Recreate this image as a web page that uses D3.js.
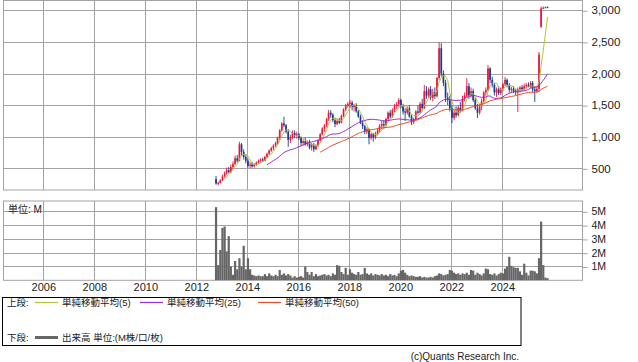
<!DOCTYPE html>
<html><head><meta charset="utf-8">
<script src="https://cdn.jsdelivr.net/npm/d3@7"></script>
<style>
body{margin:0;background:#fff}
svg{display:block}
text{font-family:"Liberation Sans","Noto Sans CJK JP",sans-serif;fill:#222}
</style>
</head><body><svg id="c" width="638" height="362"></svg>
<script>
// ---- data: monthly bars, Oct 2012 .. Oct 2025 ----
const startYear = 2012, startMonth = 10;
const opens = [
  330,260,270,
  310,370,420,470,440,520,570,660,620,880,760,680,
  620,540,560,530,560,590,620,640,620,680,730,780,
  820,860,900,980,1100,1210,1180,1080,950,990,1060,1020,
  1040,980,900,930,880,920,830,870,800,860,940,1040,
  1130,1180,1280,1380,1350,1260,1200,1250,1220,1330,1430,1490,
  1520,1540,1470,1500,1400,1320,1220,1170,1080,1120,980,1040,
  990,1050,1100,1170,1200,1180,1280,1380,1320,1420,1480,1510,
  1580,1480,1400,1380,1450,1320,1230,1280,1400,1380,1520,1450,
  1720,1650,1750,1620,1700,1640,1930,2400,2000,1850,1620,1580,
  1450,1300,1380,1340,1460,1420,1600,1650,1800,1650,1720,1580,
  1450,1380,1480,1560,1700,1740,2080,1900,1820,1700,1750,1690,
  1760,1830,1900,1820,1740,1760,1720,1700,1750,1780,1750,1800,
  1820,1790,1850,1750,1720,1760,2740,3030,3040,3050
];
const highs = [
  380,290,330,
  400,450,510,520,560,610,700,710,920,900,800,720,
  650,600,600,580,610,640,660,670,700,750,800,840,
  880,920,1000,1120,1230,1315,1200,1120,1030,1100,1100,1080,
  1060,1000,960,990,940,950,900,900,880,960,1060,1150,
  1200,1300,1423,1420,1370,1300,1280,1300,1350,1450,1520,1550,
  1581,1570,1520,1530,1420,1350,1260,1190,1150,1130,1060,1060,
  1080,1140,1200,1250,1260,1300,1400,1420,1450,1520,1550,1610,
  1600,1520,1450,1480,1500,1350,1300,1420,1500,1550,1600,1820,
  1800,1780,1800,1760,1780,1950,2494,2480,2050,1900,1700,1650,
  1500,1420,1480,1500,1550,1650,1700,1930,1850,1780,1760,1620,
  1520,1520,1600,1720,1780,2135,2100,1950,1850,1780,1800,1780,
  1850,1945,1920,1850,1790,1800,1760,1780,1800,1820,1840,1850,
  1860,1880,1880,1800,1800,2340,3060,3060,3060,3060
];
const lows = [
  240,230,260,
  300,350,400,420,420,480,550,590,610,700,640,580,
  510,500,510,510,540,570,590,600,610,660,710,760,
  790,840,880,950,1080,1150,1050,840,900,960,980,970,
  950,850,860,860,850,800,780,760,790,840,920,1020,
  1080,1150,1250,1300,1230,1150,1180,1200,1210,1310,1400,1460,
  1450,1420,1400,1380,1300,1200,1120,1040,1040,880,950,920,
  960,1020,1070,1120,1120,1160,1260,1290,1300,1390,1440,1480,
  1450,1350,1250,1350,1300,1185,1200,1260,1350,1370,1400,1440,
  1600,1620,1580,1560,1600,1620,1900,1950,1800,1550,1500,1400,
  1215,1260,1300,1320,1380,1400,1560,1620,1600,1620,1550,1420,
  1295,1350,1420,1540,1650,1720,1850,1780,1650,1630,1660,1660,
  1720,1800,1780,1700,1690,1690,1660,1390,1700,1720,1730,1760,
  1780,1770,1700,1550,1700,1710,2720,3020,3030,3040
];
const closes = [
  260,270,310,
  370,420,470,440,520,570,660,620,880,760,680,620,
  540,560,530,560,590,620,640,620,680,730,780,820,
  860,900,980,1100,1210,1180,1080,950,990,1060,1020,1040,
  980,900,930,880,920,830,870,800,860,940,1040,1130,
  1180,1280,1380,1350,1260,1200,1250,1220,1330,1430,1490,1520,
  1540,1470,1500,1400,1320,1220,1170,1080,1120,980,1040,990,
  1050,1100,1170,1200,1180,1280,1380,1320,1420,1480,1510,1580,
  1480,1400,1380,1450,1320,1230,1280,1400,1380,1520,1450,1720,
  1650,1750,1620,1700,1640,1930,2400,2000,1850,1620,1580,1450,
  1300,1380,1340,1460,1420,1600,1650,1800,1650,1720,1580,1450,
  1380,1480,1560,1700,1740,2080,1900,1820,1700,1750,1690,1760,
  1830,1900,1820,1740,1760,1720,1700,1750,1780,1750,1800,1820,
  1790,1850,1750,1720,1760,2300,3030,3040,3050,3045
];
// volume in millions
const volumes = [
  5.3,1.1,2.2,
  3.8,3.9,2.1,3.2,1.0,0.4,1.4,0.8,1.6,1.0,2.5,0.8,
  1.6,0.8,0.4,0.35,0.3,0.35,0.3,0.3,0.45,0.3,0.5,0.35,
  0.3,0.4,0.3,0.75,0.4,0.5,0.35,0.45,0.35,0.2,0.3,0.2,
  0.25,0.3,0.2,1.0,0.6,0.4,0.6,0.3,0.45,0.3,0.35,0.4,
  0.45,0.35,0.4,0.3,0.5,0.4,1.1,1.05,0.6,0.45,0.9,0.4,
  0.8,0.55,0.45,0.4,0.6,0.4,0.45,0.9,0.5,0.4,0.5,0.35,
  0.45,0.4,0.35,0.45,0.35,0.4,0.3,0.45,0.35,0.4,0.3,0.5,
  0.7,0.75,0.55,0.4,0.3,0.35,0.3,0.25,0.25,0.3,0.2,0.25,
  0.2,0.2,0.25,0.2,0.3,0.35,0.5,0.45,0.35,0.4,0.45,0.75,
  0.7,0.55,0.45,0.5,0.4,0.5,0.45,0.55,0.4,0.75,0.7,0.4,
  0.55,0.45,0.35,0.5,0.85,0.8,0.45,0.4,0.5,0.35,0.45,0.55,
  0.5,0.85,1.0,1.7,1.05,0.95,0.9,0.9,0.65,0.4,1.2,0.55,
  0.35,0.7,0.7,0.65,0.5,1.6,4.25,1.1,0.2,0.15
];
const priceTicks = [500,1000,1500,2000,2500,3000];
const volumeTicks = [1,2,3,4,5];
const yearTicks = [2006,2008,2010,2012,2014,2016,2018,2020,2022,2024];
const maPeriods = [5,25,50];
const maLabels = ["単純移動平均(5)","単純移動平均(25)","単純移動平均(50)"];
const maColors = ["#b3c43a","#9a2fcf","#e0502a"];

// ---- layout ----
const svg = d3.select("#c");
const L = 3.5, R = 582.5;
const P = {top:0.5, bottom:190};
const V = {top:201, bottom:280.3};
const gridColor = "#a3a3a3";
const upColor = "#e8173f", downColor = "#1d3a8c";

const dates = closes.map((_, i) => new Date(Date.UTC(startYear, startMonth - 1 + i, 10)));
const x = d3.scaleUtc().domain([new Date(Date.UTC(2006,0,1)), new Date(Date.UTC(2024,0,1))]).range([43.3, 502.3]);
const yP = d3.scaleLinear().domain([157, 3155]).range([P.bottom, P.top]);
const yV = d3.scaleLinear().domain([0, 5.746]).range([V.bottom, V.top]);
const snap = v => Math.round(v) + 0.5;

const defs = svg.append("defs");
defs.append("clipPath").attr("id","cp").append("rect").attr("x",L).attr("y",P.top).attr("width",R-L).attr("height",P.bottom-P.top);
defs.append("clipPath").attr("id","cv").append("rect").attr("x",L).attr("y",V.top).attr("width",R-L).attr("height",V.bottom-V.top);

// grids
function grid(panel, yScale, ticks) {
  const g = svg.append("g").attr("stroke", gridColor).attr("stroke-width",1).attr("fill","none");
  g.selectAll(".v").data(yearTicks).join("line")
    .attr("x1", d => snap(x(new Date(Date.UTC(d,0,1))))).attr("x2", d => snap(x(new Date(Date.UTC(d,0,1)))))
    .attr("y1", panel.top).attr("y2", panel.bottom);
  g.selectAll(".h").data(ticks).join("line")
    .attr("x1", L).attr("x2", R)
    .attr("y1", d => snap(yScale(d))).attr("y2", d => snap(yScale(d)));
  g.append("rect").attr("x", L).attr("y", panel.top).attr("width", R-L).attr("height", panel.bottom-panel.top);
}
grid(P, yP, priceTicks);
grid(V, yV, volumeTicks);

// candles
const cg = svg.append("g").attr("clip-path","url(#cp)");
const bw = 1.7;
closes.forEach((c, i) => {
  const o = opens[i], col = c >= o ? upColor : downColor;
  const cx = x(dates[i]);
  cg.append("line").attr("x1",cx).attr("x2",cx).attr("y1",yP(highs[i])).attr("y2",yP(lows[i]))
    .attr("stroke",col).attr("stroke-width",0.9);
  const y0 = yP(Math.max(o,c)), y1 = yP(Math.min(o,c));
  cg.append("rect").attr("x",cx-bw/2).attr("width",bw).attr("y",y0).attr("height",Math.max(1,y1-y0)).attr("fill",col);
});

// moving averages of closes
function sma(arr, n) {
  return arr.map((_, i) => i < n-1 ? null : d3.mean(arr.slice(i-n+1, i+1)));
}
maPeriods.forEach((n, k) => {
  const vals = sma(closes, n);
  const line = d3.line().defined(d => d[1] != null).x(d => x(d[0])).y(d => yP(d[1]));
  cg.append("path").datum(dates.map((d,i)=>[d, vals[i]]))
    .attr("d", line).attr("fill","none").attr("stroke", maColors[k]).attr("stroke-width",1);
});

// volume bars
const vg = svg.append("g").attr("clip-path","url(#cv)");
vg.selectAll("rect").data(volumes).join("rect")
  .attr("x",(d,i)=>x(dates[i])-1.1).attr("width",2.2)
  .attr("y",d=>yV(d)).attr("height",d=>yV(0)-yV(d)).attr("fill","#666");

// right axes
const ax1 = svg.append("g").attr("transform",`translate(${R},0)`)
  .call(d3.axisRight(yP).tickValues(priceTicks).tickFormat(d3.format(",")).tickSize(5).tickPadding(4));
const ax2 = svg.append("g").attr("transform",`translate(${R},0)`)
  .call(d3.axisRight(yV).tickValues(volumeTicks).tickFormat(d=>d+"M").tickSize(5).tickPadding(4));
[ax1, ax2].forEach(a => {
  a.select(".domain").remove();
  a.selectAll(".tick line").attr("stroke", gridColor).attr("transform","translate(0,0.5)");
  a.selectAll(".tick text").style("font-family",'"Liberation Sans",sans-serif').attr("fill","#333");
});
ax1.selectAll(".tick text").style("font-size","11.5px");
ax2.selectAll(".tick text").style("font-size","10.5px");

// year axis
const ax3 = svg.append("g").attr("transform",`translate(0,${V.bottom})`)
  .call(d3.axisBottom(x).tickValues(yearTicks.map(y=>new Date(Date.UTC(y,0,1)))).tickFormat(d3.utcFormat("%Y")).tickSize(0).tickPadding(3));
ax3.select(".domain").remove();
ax3.selectAll(".tick text").style("font-size","11px").attr("fill","#333");

svg.append("text").attr("x",8).attr("y",213).style("font-size","10px").text("単位: M");

// legend
const lg = svg.append("g");
lg.append("rect").attr("x",2.5).attr("y",297.5).attr("width",518.5).attr("height",48)
  .attr("fill","#fff").attr("stroke","#000").attr("stroke-width",1);
lg.append("text").attr("x",7).attr("y",306).style("font-size","9.5px").text("上段:");
const legX = [35,140,258];
maLabels.forEach((t,k) => {
  lg.append("line").attr("x1",legX[k]).attr("x2",legX[k]+23).attr("y1",302.5).attr("y2",302.5)
    .attr("stroke",maColors[k]).attr("stroke-width",1.2);
  lg.append("text").attr("x",legX[k]+27).attr("y",306).style("font-size","9.5px").text(t);
});
lg.append("text").attr("x",7).attr("y",341).style("font-size","9.5px").text("下段:");
lg.append("line").attr("x1",35).attr("x2",58).attr("y1",337.5).attr("y2",337.5).attr("stroke","#666").attr("stroke-width",3);
lg.append("text").attr("x",62).attr("y",341).style("font-size","9.5px").text("出来高 単位:(M株/口/枚)");

svg.append("text").attr("x",519).attr("y",360).attr("text-anchor","end")
  .style("font-size","10px").attr("fill","#444").text("(c)Quants Research Inc.");
</script>
</body></html>
